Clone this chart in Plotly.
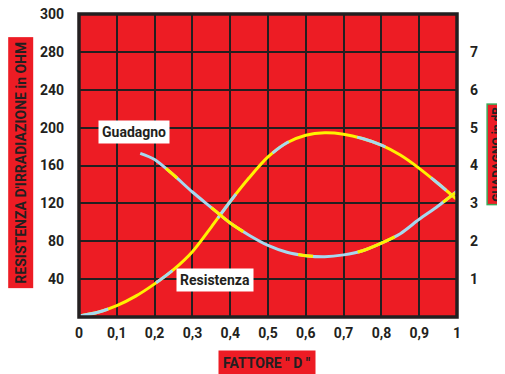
import plotly.graph_objects as go

# fattore D
x_res = [0, 0.05, 0.1, 0.15, 0.2, 0.25, 0.3, 0.35, 0.4, 0.45, 0.5, 0.55, 0.6, 0.65, 0.7, 0.75, 0.8, 0.85, 0.9, 0.95, 1.0]
resistenza = [1, 5, 12, 22, 35, 50, 69, 95, 122, 147, 169, 184, 192, 194.5, 193, 188.5, 181.5, 171, 157, 141, 124]

x_gua = [0.162, 0.2, 0.25, 0.3, 0.35, 0.4, 0.45, 0.5, 0.55, 0.6, 0.65, 0.7, 0.75, 0.8, 0.85, 0.9, 0.95, 1.0]
guadagno = [4.32, 4.16, 3.75, 3.3, 2.89, 2.48, 2.16, 1.89, 1.71, 1.62, 1.59, 1.64, 1.75, 1.95, 2.2, 2.58, 2.93, 3.32]

x_ticks = [0, 0.1, 0.2, 0.3, 0.4, 0.5, 0.6, 0.7, 0.8, 0.9, 1]
x_labels = ["0", "0,1", "0,2", "0,3", "0,4", "0,5", "0,6", "0,7", "0,8", "0,9", "1"]
y_ticks = [40, 80, 120, 160, 200, 240, 280, 320]
y_labels = ["40", "80", "120", "160", "200", "240", "280", "300"]
y2_ticks = [1, 2, 3, 4, 5, 6, 7]

ROSSO = "#ED1C24"
SCURO = "#231F20"
AZZURRO = "#A6D9F0"
GIALLO = "#FFF200"
FONT = "Roboto, sans-serif"

fig = go.Figure()

# resistenza: base gialla + tratti azzurri
fig.add_trace(go.Scatter(x=x_res, y=resistenza, mode="lines", name="Resistenza",
                         line=dict(color=GIALLO, width=3, shape="spline", smoothing=0.8), showlegend=False))
fig.add_trace(go.Scatter(x=x_res, y=resistenza, mode="lines", hoverinfo="skip", showlegend=False,
                         line=dict(color=AZZURRO, width=3, shape="spline", smoothing=0.8,
                                   dash="30px,55px,20px,70px")))

# guadagno (asse destro): base azzurra + tratti gialli
fig.add_trace(go.Scatter(x=x_gua, y=guadagno, yaxis="y2", mode="lines", name="Guadagno",
                         line=dict(color=AZZURRO, width=3, shape="spline", smoothing=0.8), showlegend=False))
fig.add_trace(go.Scatter(x=x_gua, y=guadagno, yaxis="y2", mode="lines", hoverinfo="skip", showlegend=False,
                         line=dict(color=GIALLO, width=3, shape="spline", smoothing=0.8,
                                   dash="0px,30px,15px,45px,40px,30px")))

# la pagina ha 8px di margine: figura 497x366
fig.update_layout(
    width=497, height=366,
    margin=dict(l=71, r=48, t=6, b=57),
    paper_bgcolor="white",
    plot_bgcolor=ROSSO,
    font=dict(family=FONT, color=SCURO, size=14),
    xaxis=dict(range=[0, 1], tickvals=x_ticks, ticktext=["<b>%s</b>" % t for t in x_labels],
               showgrid=True, gridcolor=SCURO, gridwidth=1.5, zeroline=False, ticks="",
               ticklabelstandoff=6, automargin=False, tickfont=dict(size=14)),
    yaxis=dict(range=[0, 320], tickvals=y_ticks, ticktext=["<b>%s</b>" % t for t in y_labels],
               showgrid=True, gridcolor=SCURO, gridwidth=1.5, zeroline=False, ticks="",
               ticklabelstandoff=14, automargin=False, tickfont=dict(size=14),
               ticklabeloverflow="allow"),
    yaxis2=dict(range=[0, 8], overlaying="y", side="right", tickvals=y2_ticks,
                ticktext=["<b>%d</b>" % t for t in y2_ticks], showgrid=False, zeroline=False,
                ticks="", ticklabelstandoff=12, automargin=False, tickfont=dict(size=14)),
)

# cornice
fig.add_shape(type="rect", xref="paper", yref="paper", x0=0, x1=1, y0=0, y1=1,
              line=dict(color=SCURO, width=3.5))

# etichette curve
fig.add_annotation(x=0.145, y=195, xref="x", yref="y", text="<b>Guadagno</b>", showarrow=False,
                   bgcolor="white", font=dict(size=14, color=SCURO), borderpad=3)
fig.add_annotation(x=0.36, y=39, xref="x", yref="y", text="<b>Resistenza</b>", showarrow=False,
                   bgcolor="white", font=dict(size=14, color=SCURO), borderpad=3)

# titoli assi
fig.add_annotation(x=-0.153, y=0.51, xref="paper", yref="paper", textangle=-90, xanchor="center",
                   text="<b>RESISTENZA D'IRRADIAZIONE in OHM</b>", showarrow=False,
                   bgcolor=ROSSO, font=dict(size=14, color=SCURO), borderpad=4)
fig.add_annotation(x=1.079, y=0.538, xref="paper", yref="paper", textangle=-90, xanchor="left",
                   text="<b>GUADAGNO in dB</b>", showarrow=False,
                   bgcolor=ROSSO, bordercolor="#3BAA5A", borderwidth=1.5,
                   font=dict(size=12, color=SCURO), borderpad=2)
fig.add_annotation(x=0.497, y=-0.109, xref="paper", yref="paper", yanchor="top", xanchor="center",
                   text="<b>FATTORE \" D \"</b>", showarrow=False,
                   bgcolor=ROSSO, font=dict(size=14, color=SCURO), borderpad=4)

fig.write_html("out.html")
